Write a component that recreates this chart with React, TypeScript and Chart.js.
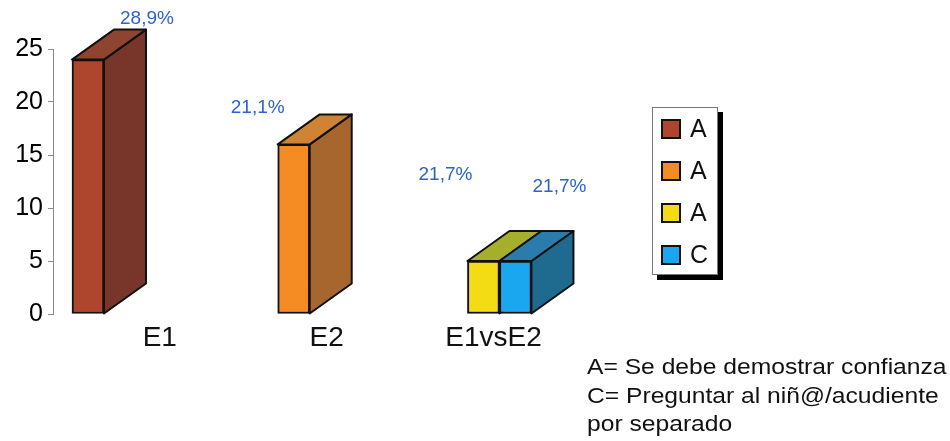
import React, { useEffect, useRef } from 'react';
import { Chart, registerables } from 'chart.js';

Chart.register(...registerables);

// ---------- data ----------
const categories = ['E1', 'E2', 'E1vsE2'];
const seriesNames = ['A', 'A', 'A', 'C'];
const seriesE1A = [24, null, null];
const seriesE2A = [null, 16, null];
const seriesE12A = [null, null, 5];
const seriesE12C = [null, null, 5];
const percentLabels = ['28,9%', '21,1%', '21,7%', '21,7%'];
const yMin = 0;
const yMax = 25;
const yStep = 5;
const noteLines = [
  'A= Se debe demostrar confianza',
  'C= Preguntar al niñ@/acudiente',
  'por separado',
];

// ---------- styles ----------
const FONT = '"Liberation Sans", Arial, Helvetica, sans-serif';
const palette = [
  { front: '#ad462c', side: '#78362b', top: '#8f4430' },
  { front: '#f58c23', side: '#a8662f', top: '#cf8434' },
  { front: '#f4dc14', side: '#9aa22a', top: '#a6ae2e' },
  { front: '#1ba6f0', side: '#1f6b90', top: '#2a7cad' },
];
const labelNudge = [
  [59, -41],
  [-36, -37],
  [-38, -86],
  [44, -74],
];
const DX = 42;
const DY = -30;
const LEG = { x: 652, y: 107, w: 66, h: 168, shadow: 5, firstY: 129, step: 42, sq: 18, sqX: 662, textX: 690 };
const NOTE = { x: 587, y: 374, step: 28.6, size: 22, stretch: 1.12 };

const seriesList = [seriesE1A, seriesE2A, seriesE12A, seriesE12C];

const toPoints = (arr: (number | null)[]) => arr.map((v, i) => ({ x: i, y: v }));

const box3d = {
  id: 'box3d',
  beforeDatasetsDraw(chart: any) {
    const ctx = chart.ctx;
    chart.data.datasets.forEach((ds: any, di: number) => {
      const meta = chart.getDatasetMeta(di);
      meta.data.forEach((el: any, j: number) => {
        const raw = ds.data[j];
        if (!raw || raw.y == null) return;
        const { x, y, base, width } = el.getProps(['x', 'y', 'base', 'width'], true);
        const l = x - width / 2;
        const r = x + width / 2;
        ctx.save();
        ctx.lineWidth = 2;
        ctx.strokeStyle = '#111';
        ctx.lineJoin = 'round';
        ctx.beginPath();
        ctx.moveTo(r, y);
        ctx.lineTo(r + DX, y + DY);
        ctx.lineTo(r + DX, base + DY);
        ctx.lineTo(r, base);
        ctx.closePath();
        ctx.fillStyle = ds.sideColor;
        ctx.fill();
        ctx.stroke();
        ctx.beginPath();
        ctx.moveTo(l, y);
        ctx.lineTo(l + DX, y + DY);
        ctx.lineTo(r + DX, y + DY);
        ctx.lineTo(r, y);
        ctx.closePath();
        ctx.fillStyle = ds.topColor;
        ctx.fill();
        ctx.stroke();
        ctx.restore();
      });
    });
  },
  afterDatasetsDraw(chart: any) {
    const ctx = chart.ctx;
    ctx.save();
    ctx.font = `19px ${FONT}`;
    ctx.fillStyle = '#2e62c8';
    ctx.textAlign = 'center';
    ctx.textBaseline = 'middle';
    chart.data.datasets.forEach((ds: any, di: number) => {
      const meta = chart.getDatasetMeta(di);
      meta.data.forEach((el: any, j: number) => {
        const raw = ds.data[j];
        if (!raw || raw.y == null) return;
        const { x, y } = el.getProps(['x', 'y'], true);
        ctx.fillText(ds.percent, x + ds.nudge[0], y + ds.nudge[1]);
      });
    });
    ctx.restore();
  },
  afterDraw(chart: any) {
    const ctx = chart.ctx;
    ctx.save();
    // legend frame with shadow
    ctx.fillStyle = '#000';
    ctx.fillRect(LEG.x + LEG.shadow, LEG.y + LEG.shadow, LEG.w, LEG.h);
    ctx.fillStyle = '#fff';
    ctx.fillRect(LEG.x, LEG.y, LEG.w, LEG.h);
    ctx.strokeStyle = '#777';
    ctx.lineWidth = 1;
    ctx.strokeRect(LEG.x + 0.5, LEG.y + 0.5, LEG.w - 1, LEG.h - 1);
    chart.data.datasets.forEach((ds: any, i: number) => {
      const cy = LEG.firstY + i * LEG.step;
      ctx.fillStyle = ds.backgroundColor;
      ctx.fillRect(LEG.sqX, cy - LEG.sq / 2, LEG.sq, LEG.sq);
      ctx.strokeStyle = '#111';
      ctx.lineWidth = 2;
      ctx.strokeRect(LEG.sqX, cy - LEG.sq / 2, LEG.sq, LEG.sq);
      ctx.fillStyle = '#111';
      ctx.font = `25px ${FONT}`;
      ctx.textAlign = 'left';
      ctx.textBaseline = 'middle';
      ctx.fillText(ds.label, LEG.textX, cy + 1);
    });
    // notes
    ctx.fillStyle = '#111';
    ctx.font = `${NOTE.size}px ${FONT}`;
    ctx.textAlign = 'left';
    ctx.textBaseline = 'alphabetic';
    noteLines.forEach((line, i) => {
      ctx.save();
      ctx.translate(NOTE.x, NOTE.y + i * NOTE.step);
      ctx.scale(NOTE.stretch, 1);
      ctx.fillText(line, 0, 0);
      ctx.restore();
    });
    ctx.restore();
  },
};

export default function App() {
  const ref = useRef<HTMLCanvasElement>(null);
  useEffect(() => {
    const datasets = seriesList.map((arr, i) => ({
      label: seriesNames[i],
      data: toPoints(arr),
      backgroundColor: palette[i].front,
      sideColor: palette[i].side,
      topColor: palette[i].top,
      percent: percentLabels[i],
      nudge: labelNudge[i],
      borderColor: '#111',
      borderWidth: 2,
      borderSkipped: false,
      barThickness: 32,
      skipNull: true,
      xAxisID: 'x',
    }));
    const chart = new Chart(ref.current as HTMLCanvasElement, {
      type: 'bar',
      data: { datasets } as any,
      plugins: [box3d],
      options: {
        animation: false,
        responsive: false,
        devicePixelRatio: 1,
        layout: { padding: { top: 49, right: 0, bottom: 0, left: 0 } },
        plugins: { legend: { display: false }, tooltip: { enabled: false } },
        scales: {
          x: { type: 'linear', display: false, min: -0.17, max: 4.19, offset: false },
          x2: {
            type: 'linear',
            axis: 'x',
            position: 'bottom',
            min: -0.64,
            max: 4.735,
            offset: false,
            grid: { display: false, drawTicks: false },
            border: { display: false },
            afterFit: (s: any) => { s.height = 127; },
            ticks: {
              stepSize: 1,
              includeBounds: false,
              autoSkip: false,
              maxRotation: 0,
              padding: 7,
              color: '#111',
              font: { family: FONT, size: 28 },
              callback: (v: any) => (Number.isInteger(v) ? (categories[v] ?? '') : ''),
            },
          },
          y: {
            min: yMin,
            max: yMax,
            afterFit: (s: any) => { s.width = 53; },
            ticks: { stepSize: yStep, padding: 5, color: '#000', font: { family: FONT, size: 25 } },
            grid: { drawOnChartArea: false, drawTicks: true, tickLength: 5, color: '#8a8a8a' },
            border: { display: true, color: '#8a8a8a', width: 1 },
          },
        },
      } as any,
    });
    return () => chart.destroy();
  }, []);
  return (
    <div style={{ position: 'fixed', left: 0, top: 0, width: 950, height: 441, background: '#fff' }}>
      <canvas ref={ref} width={950} height={441} style={{ display: 'block', width: 950, height: 441 }} />
    </div>
  );
}
